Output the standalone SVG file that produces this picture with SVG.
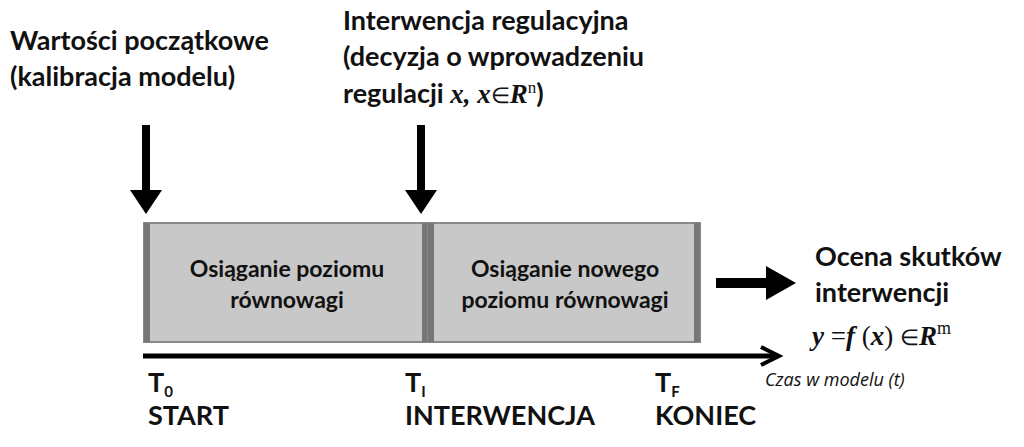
<svg xmlns="http://www.w3.org/2000/svg" width="1024" height="447" viewBox="0 0 1024 447">
<style>
.t{font-family:Lato,"Open Sans",sans-serif;font-weight:bold;font-size:27px;fill:#111}
.b{font-family:Lato,"Open Sans",sans-serif;font-weight:bold;font-size:23px;fill:#111;text-anchor:middle}
.m{font-family:"Liberation Serif",serif;font-style:italic;font-weight:bold;font-size:27px;fill:#111}
.n{font-family:"Liberation Serif",serif;font-style:normal;font-weight:normal}
.box{fill:#c8c8c8;stroke:#888;stroke-width:2}
.edge{fill:#777}
</style>
<rect width="1024" height="447" fill="#fff"/>
<g id="label-start">
<text class="t" x="10" y="50">Wartości początkowe</text>
<text class="t" x="10" y="86">(kalibracja modelu)</text>
</g>
<g id="label-intervention">
<text class="t" x="343" y="30">Interwencja regulacyjna</text>
<text class="t" x="343" y="66">(decyzja o wprowadzeniu</text>
<text class="t" x="343" y="103">regulacji <tspan class="m">x,  x</tspan><tspan class="n" font-size="22">∈</tspan><tspan class="m">R</tspan><tspan class="n" font-size="17" dy="-10">n</tspan><tspan dy="10">)</tspan></text>
</g>
<g id="box1">
<rect class="box" x="144" y="223" width="284" height="119"/>
<rect class="edge" x="144" y="223" width="6" height="119"/>
<rect class="edge" x="422" y="223" width="6" height="119"/>
<text class="b" x="287" y="277">Osiąganie poziomu</text>
<text class="b" x="287" y="308">równowagi</text>
</g>
<g id="box2">
<rect class="box" x="428" y="223" width="272" height="119"/>
<rect class="edge" x="428" y="223" width="6" height="119"/>
<rect class="edge" x="694" y="223" width="6" height="119"/>
<text class="b" x="565" y="277">Osiąganie nowego</text>
<text class="b" x="565" y="308">poziomu równowagi</text>
</g>
<g id="outcome">
<text class="t" x="815" y="266">Ocena skutków</text>
<text class="t" x="815" y="302">interwencji</text>
<text class="m" x="812" y="345">y <tspan class="n">=</tspan>f <tspan class="n">(</tspan>x<tspan class="n">)  </tspan><tspan class="n" font-size="22">∈</tspan>R<tspan class="n" font-size="18" dy="-11">m</tspan></text>
</g>
<g id="time-labels">
<text class="t" x="148" y="392" font-size="23">T<tspan font-size="15" dy="5">0</tspan></text>
<text class="t" x="148" y="425" font-size="23">START</text>
<text class="t" x="405" y="392" font-size="23">T<tspan font-size="15" dy="5">I</tspan></text>
<text class="t" x="405" y="425" font-size="23">INTERWENCJA</text>
<text class="t" x="655" y="392" font-size="23">T<tspan font-size="15" dy="5">F</tspan></text>
<text class="t" x="655" y="425" font-size="23">KONIEC</text>
<text x="765" y="386" font-family="'Open Sans',sans-serif" font-style="italic" font-size="18" fill="#111">Czas w modelu (t)</text>
</g>
<g id="connectors">
<path d="M142 125h8v65h12l-16 24l-16-24h12z" fill="#000"/>
<path d="M417 125h8v65h12l-16 24l-16-24h12z" fill="#000"/>
<path d="M716 278h50v-12l30 17l-30 17v-12h-50z" fill="#000"/>
<line x1="143" y1="356" x2="778" y2="356" stroke="#000" stroke-width="5"/>
<path d="M761 347l18 9l-18 9" fill="none" stroke="#000" stroke-width="4"/>
</g>
</svg>
